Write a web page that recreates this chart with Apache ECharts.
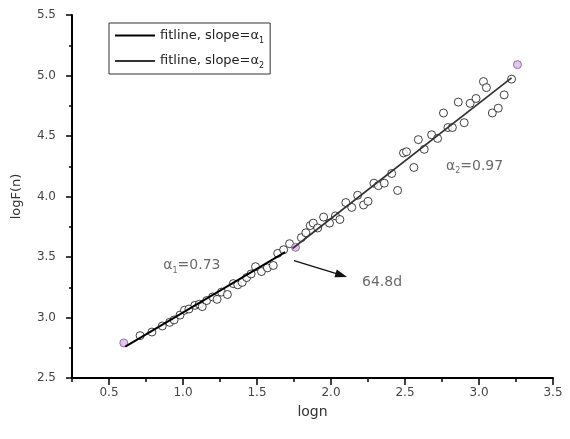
<!DOCTYPE html>
<html>
<head>
<meta charset="utf-8">
<script src="https://cdn.jsdelivr.net/npm/echarts@6/dist/echarts.min.js"></script>
<style>html,body{margin:0;padding:0;background:#fff}#c{width:570px;height:439px}</style>
</head>
<body>
<div id="c"></div>
<script>
// scatter data (logn, logF(n))
const lognPts = [0.71,0.79,0.86,0.91,0.94,0.98,1.01,1.04,1.08,1.11,1.13,1.16,1.20,1.23,1.26,1.30,1.34,1.37,1.40,1.43,1.46,1.49,1.53,1.57,1.61,1.64,1.68,1.72,
  1.80,1.83,1.86,1.88,1.91,1.95,1.99,2.03,2.06,2.10,2.14,2.18,2.22,2.25,2.29,2.32,2.36,2.41,2.45,2.49,2.51,2.56,2.59,2.63,2.68,2.72,2.76,2.79,2.82,2.86,2.90,2.94,2.98,3.03,3.05,3.09,3.13,3.17,3.22];
const logFPts = [2.85,2.88,2.93,2.96,2.98,3.02,3.06,3.07,3.10,3.11,3.09,3.14,3.17,3.15,3.21,3.19,3.28,3.27,3.29,3.33,3.36,3.42,3.38,3.41,3.43,3.53,3.56,3.61,
  3.66,3.70,3.76,3.78,3.74,3.83,3.78,3.84,3.81,3.95,3.91,4.01,3.93,3.96,4.11,4.09,4.11,4.19,4.05,4.36,4.37,4.24,4.47,4.39,4.51,4.48,4.69,4.57,4.57,4.78,4.61,4.77,4.81,4.95,4.90,4.69,4.73,4.84,4.97];
// highlighted end points
const endX = [0.60, 1.76, 3.26];
const endY = [2.79, 3.58, 5.09];
// fit lines
const fit1X = [0.61, 1.69];
const fit1Y = [2.76, 3.54];
const fit2X = [1.74, 3.22];
const fit2Y = [3.57, 4.98];
// annotations
const annotX = [1.06, 2.97, 2.345];
const annotY = [3.43, 4.25, 3.29];
const annotText = ['{t|α}{s|1}{t|=0.73}', '{t|α}{s|2}{t|=0.97}', '{t|64.8d}'];
const arrowFrom = [1.75, 3.47];
const arrowTo = [2.07, 3.35];
// ticks
const xMajor = [0.5, 1.0, 1.5, 2.0, 2.5, 3.0, 3.5];
const xMinor = [0.25, 0.75, 1.25, 1.75, 2.25, 2.75, 3.25];

const F = 'DejaVu Sans, sans-serif';
const zip = (a, b) => a.map((v, i) => [v, b[i]]);

const chart = echarts.init(document.getElementById('c'));
chart.setOption({
  animation: false,
  backgroundColor: '#fff',
  grid: { left: 72, right: 17, top: 15, bottom: 61, containLabel: false },
  legend: {
    data: ['fit1', 'fit2'],
    orient: 'vertical', left: 109, top: 23,
    icon: 'rect', itemWidth: 40, itemHeight: 2, itemGap: 10,
    borderColor: '#333', borderWidth: 1, borderRadius: 0,
    padding: [6, 6, 4, 6],
    formatter: n => n === 'fit1' ? '{t|fitline, slope=α}{s|1}' : '{t|fitline, slope=α}{s|2}',
    textStyle: {
      rich: {
        t: { fontSize: 13, fontFamily: F, color: '#222', lineHeight: 18 },
        s: { fontSize: 8, fontFamily: F, color: '#222', lineHeight: 8, verticalAlign: 'bottom' }
      }
    }
  },
  xAxis: [{
    type: 'value', min: 0.25, max: 3.5, interval: 0.25,
    name: 'logn', nameLocation: 'middle', nameGap: 27,
    nameTextStyle: { fontSize: 14, fontFamily: F, color: '#333' },
    axisLine: { lineStyle: { color: '#000', width: 2 } },
    axisTick: { length: 7, customValues: xMajor, lineStyle: { color: '#000', width: 1.5 } },
    axisLabel: { customValues: xMajor, margin: 9, fontSize: 12, fontFamily: F, color: '#444', formatter: v => v.toFixed(1) },
    splitLine: { show: false }
  }, {
    type: 'value', min: 0.25, max: 3.5, position: 'bottom', offset: 0,
    axisLine: { show: false },
    axisTick: { length: 4, customValues: xMinor, lineStyle: { color: '#000', width: 1.5 } },
    axisLabel: { show: false },
    splitLine: { show: false }
  }],
  yAxis: {
    type: 'value', min: 2.5, max: 5.5, interval: 0.5,
    name: 'logF(n)', nameLocation: 'middle', nameGap: 49,
    nameTextStyle: { fontSize: 13, fontFamily: F, color: '#333' },
    axisLine: { lineStyle: { color: '#000', width: 2 } },
    axisTick: { length: 6, lineStyle: { color: '#000', width: 1.5 } },
    minorTick: { show: true, splitNumber: 2, length: 3, lineStyle: { color: '#000', width: 1.5 } },
    axisLabel: { margin: 16, fontSize: 12, fontFamily: F, color: '#444', formatter: v => v.toFixed(1) },
    splitLine: { show: false }
  },
  series: [
    {
      name: 'data', type: 'scatter', data: zip(lognPts, logFPts),
      symbol: 'circle', symbolSize: 8, z: 2,
      itemStyle: { color: '#fff', borderColor: '#111', borderWidth: 1 }
    },
    {
      name: 'ends', type: 'scatter', data: zip(endX, endY),
      symbol: 'circle', symbolSize: 8, z: 2,
      itemStyle: { color: '#dcb8e6', borderColor: '#7a5a8c', borderWidth: 1 }
    },
    {
      name: 'fit1', type: 'line', data: zip(fit1X, fit1Y), symbol: 'none', z: 3,
      lineStyle: { color: '#000', width: 2 }, itemStyle: { color: '#000' }
    },
    {
      name: 'fit2', type: 'line', data: zip(fit2X, fit2Y), symbol: 'none', z: 3,
      lineStyle: { color: '#333', width: 1.7 }, itemStyle: { color: '#333' }
    },
    {
      name: 'annot', type: 'scatter', symbolSize: 0, z: 4, silent: true,
      data: annotX.map((x, i) => ({ value: [x, annotY[i]], text: annotText[i] })),
      label: {
        show: true, position: 'inside',
        formatter: p => p.data.text,
        rich: {
          t: { fontSize: 14, fontFamily: F, color: '#444', lineHeight: 18 },
          s: { fontSize: 8, fontFamily: F, color: '#444', lineHeight: 8, verticalAlign: 'bottom' }
        }
      },
      markLine: {
        silent: true, symbol: ['none', 'triangle'], symbolSize: [8, 12],
        label: { show: false },
        lineStyle: { color: '#111', width: 1.2, type: 'solid' },
        data: [[{ coord: arrowFrom }, { coord: arrowTo }]]
      }
    }
  ]
});
</script>
</body>
</html>
